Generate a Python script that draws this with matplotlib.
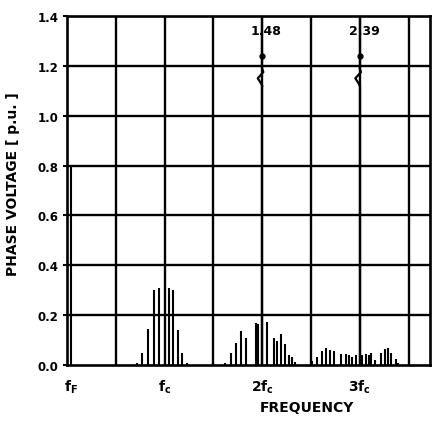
import numpy as np
import matplotlib
matplotlib.use('Agg')
from matplotlib import pyplot as plt

plt.rcParams['font.family'] = ['DejaVu Sans']
plt.rcParams['mathtext.fontset'] = 'dejavusans'

# frequency in units of the carrier frequency fc
fund_x = [0.045]
fund_h = [0.80]

# sidebands round fc
band1_x = [0.720, 0.769, 0.830, 0.892, 0.943, 1.046, 1.090, 1.136, 1.183, 1.234]
band1_h = [0.01, 0.05, 0.145, 0.30, 0.31, 0.31, 0.30, 0.14, 0.05, 0.01]

# sidebands round 2fc
band2_x = [1.619, 1.677, 1.730, 1.784, 1.833, 1.934, 1.961, 2.047, 2.126,
           2.150, 2.193, 2.236, 2.280, 2.304, 2.332]
band2_h = [0.01, 0.048, 0.09, 0.135, 0.11, 0.168, 0.163, 0.172, 0.108,
           0.095, 0.125, 0.085, 0.042, 0.034, 0.012]

# sidebands round 3fc
band3_x = [2.510, 2.561, 2.609, 2.650, 2.692, 2.733, 2.810, 2.856, 2.892,
           2.923, 2.959, 3.024, 3.059, 3.093, 3.113, 3.154, 3.213, 3.257,
           3.288, 3.319, 3.367, 3.394]
band3_h = [0.015, 0.032, 0.058, 0.068, 0.062, 0.055, 0.046, 0.045, 0.04,
           0.032, 0.04, 0.042, 0.046, 0.042, 0.05, 0.02, 0.05, 0.065,
           0.07, 0.05, 0.025, 0.008]

# off-scale carrier harmonics (value written above the broken bar)
big_x = [2.0, 3.0]
big_h = [1.48, 2.39]
big_labels = ['1.48', '2.39']

xtick_pos = [0.045, 1.0, 2.0, 3.0]
xtick_labels = [r'$\mathbf{f_F}$', r'$\mathbf{f_c}$', r'$\mathbf{2f_c}$', r'$\mathbf{3f_c}$']
ytick_pos = [0.0, 0.2, 0.4, 0.6, 0.8, 1.0, 1.2, 1.4]
grid_x = [0.5, 1.0, 1.5, 2.0, 2.5, 3.0, 3.5]

YMAX = 1.4

fig = plt.figure(figsize=(4.37, 4.31), dpi=100)
ax = fig.add_axes([0.1533, 0.1508, 0.8307, 0.8097])
ax.set_xlim(0, 3.72)
ax.set_ylim(0, YMAX)

# grid
for gx in grid_x:
    ax.axvline(gx, color='black', lw=1.7, zorder=1)
for gy in ytick_pos[1:-1]:
    ax.axhline(gy, color='black', lw=1.7, zorder=1)

# spectrum lines
all_x = fund_x + band1_x + band2_x + band3_x
all_h = fund_h + band1_h + band2_h + band3_h
ax.vlines(all_x, 0, all_h, color='black', lw=1.5, zorder=2)

# broken tall bars
for bx, bh, lab in zip(big_x, big_h, big_labels):
    top = min(bh, YMAX)
    ax.vlines([bx], 0, 1.12, color='black', lw=1.6, zorder=3)
    ax.vlines([bx], 1.19, top, color='black', lw=1.6, zorder=3)
    ax.plot([bx, bx + 0.012, bx - 0.045, bx - 0.012, bx],
            [1.19, 1.175, 1.15, 1.13, 1.12], color='black', lw=1.6, zorder=3)
    ax.plot([bx], [1.24], 'o', color='black', ms=3.5, zorder=4)
    ax.annotate(lab, xy=(bx, 1.34), xytext=(3, 0), textcoords='offset points',
                ha='center', va='center', fontsize=9, fontweight='bold',
                zorder=5)

for sp in ax.spines.values():
    sp.set_linewidth(1.9)

ax.set_yticks(ytick_pos)
ax.set_yticklabels(['%.1f' % v for v in ytick_pos], fontsize=8.5,
                   fontweight='bold')
ax.tick_params(axis='y', direction='out', length=3, width=1.5, pad=3)
ax.set_xticks(xtick_pos)
ax.set_xticklabels(xtick_labels, fontsize=10)
ax.tick_params(axis='x', length=0, pad=9)

ax.set_ylabel('PHASE VOLTAGE [ p.u. ]', fontsize=10, fontweight='bold')
ax.yaxis.set_label_coords(-0.13, 0.52)
ax.set_xlabel('FREQUENCY', fontsize=10, fontweight='bold', x=0.661,
              labelpad=4)

fig.savefig('out.png', dpi=100, facecolor='white')
